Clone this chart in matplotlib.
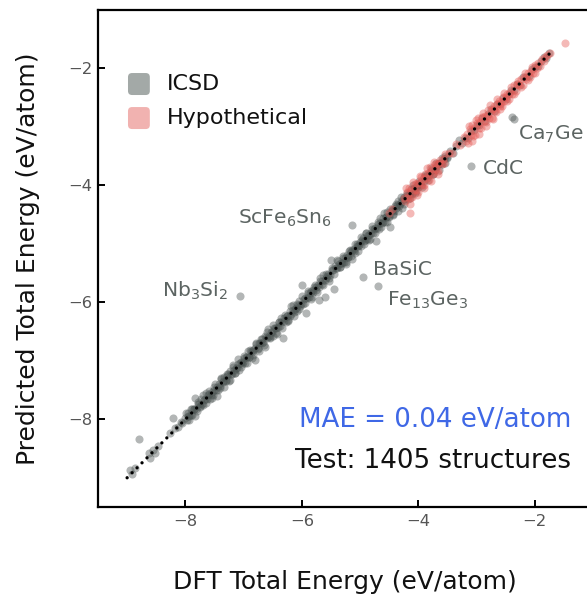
import matplotlib
matplotlib.use("Agg")
import matplotlib.pyplot as plt
from matplotlib.patches import FancyBboxPatch

plt.rcParams["font.family"] = ["DejaVu Sans"]
plt.rcParams["mathtext.fontset"] = "dejavusans"
plt.rcParams["mathtext.default"] = "regular"

# ---------------- data (eV/atom) ----------------
# ICSD structures: DFT energy vs. model prediction
icsd_dft_low = [-8.95, -8.91, -8.87, -8.80, -8.63, -8.60, -8.56, -8.52, -8.47, -8.26,
                -8.22, -8.17, -8.12, -8.08, -8.05]
icsd_pred_low = [-8.86, -8.93, -8.84, -8.34, -8.58, -8.66, -8.52, -8.57, -8.45, -8.24,
                 -7.97, -8.15, -8.14, -8.05, -8.06]

icsd_dft_a = [-8.00, -7.98, -7.95, -7.93, -7.90, -7.88, -7.85, -7.83, -7.80, -7.78,
              -7.75, -7.73, -7.70, -7.68, -7.65, -7.63, -7.60, -7.58, -7.55, -7.53,
              -7.50, -7.48, -7.45, -7.43, -7.40, -7.38, -7.35, -7.33, -7.30, -7.28,
              -7.25, -7.23, -7.20, -7.18, -7.15, -7.13, -7.10, -7.08, -7.05, -7.03]
icsd_pred_a = [-7.98, -8.01, -7.90, -7.94, -7.82, -7.92, -7.82, -7.64, -7.86, -7.74,
               -7.77, -7.66, -7.75, -7.67, -7.55, -7.66, -7.56, -7.66, -7.53, -7.58,
               -7.44, -7.50, -7.60, -7.40, -7.46, -7.29, -7.36, -7.28, -7.34, -7.26,
               -7.34, -7.17, -7.23, -7.07, -7.20, -7.12, -7.06, -7.15, -7.02, -7.05]

icsd_dft_b = [-7.00, -6.98, -6.95, -6.93, -6.90, -6.88, -6.85, -6.83, -6.80, -6.78,
              -6.75, -6.73, -6.70, -6.68, -6.65, -6.63, -6.60, -6.58, -6.55, -6.53,
              -6.50, -6.48, -6.45, -6.43, -6.40, -6.38, -6.35, -6.33, -6.30, -6.28,
              -6.25, -6.23, -6.20, -6.18, -6.15, -6.13, -6.10, -6.08, -6.05, -6.03]
icsd_pred_b = [-6.96, -7.04, -6.93, -6.84, -6.93, -6.83, -6.95, -6.82, -6.99, -6.72,
               -6.79, -6.70, -6.63, -6.70, -6.73, -6.58, -6.61, -6.46, -6.60, -6.51,
               -6.57, -6.44, -6.44, -6.54, -6.34, -6.41, -6.27, -6.61, -6.27, -6.33,
               -6.23, -6.32, -6.15, -6.20, -6.05, -6.17, -6.09, -6.14, -5.98, -6.06]

icsd_dft_c = [-6.00, -5.98, -5.95, -5.93, -5.90, -5.88, -5.85, -5.83, -5.80, -5.78,
              -5.75, -5.73, -5.70, -5.68, -5.65, -5.63, -5.60, -5.58, -5.55, -5.53,
              -5.50, -5.48, -5.45, -5.43, -5.40, -5.38, -5.35, -5.33, -5.30, -5.28,
              -5.25, -5.23, -5.20, -5.18, -5.15, -5.13, -5.10, -5.08, -5.05, -5.03]
icsd_pred_c = [-5.70, -6.03, -5.92, -6.18, -5.84, -5.90, -5.81, -5.91, -5.79, -5.71,
               -5.79, -5.71, -5.96, -5.63, -5.68, -5.54, -5.91, -5.59, -5.51, -5.59,
               -5.28, -5.45, -5.78, -5.38, -5.42, -5.30, -5.40, -5.32, -5.24, -5.31,
               -5.35, -5.19, -5.22, -5.11, -5.20, -5.10, -5.08, -5.15, -5.00, -5.04]

icsd_dft_d = [-5.00, -4.98, -4.95, -4.93, -4.90, -4.88, -4.85, -4.83, -4.80, -4.78,
              -4.75, -4.73, -4.70, -4.68, -4.65, -4.63, -4.60, -4.58, -4.55, -4.53,
              -4.50, -4.48, -4.45, -4.43, -4.40, -4.38, -4.35, -4.33, -4.30, -4.28,
              -4.25, -4.23, -4.20, -4.18, -4.15, -4.13, -4.10, -4.08, -4.05, -4.03]
icsd_pred_d = [-4.97, -5.04, -4.90, -4.95, -4.82, -4.92, -4.84, -4.92, -4.74, -4.81,
               -4.73, -4.95, -4.66, -4.75, -4.55, -4.65, -4.55, -4.63, -4.54, -4.46,
               -4.54, -4.71, -4.42, -4.49, -4.35, -4.39, -4.27, -4.36, -4.28, -4.38,
               -4.19, -4.25, -4.16, -4.23, -4.14, -4.06, -4.14, -4.05, -4.13, -4.01]

icsd_dft_e = [-4.00, -3.95, -3.90, -3.85, -3.80, -3.75, -3.70, -3.65, -3.60, -3.55,
              -3.50, -3.45, -3.40, -3.35, -3.30, -3.25, -3.20, -3.15, -3.10, -3.05]
icsd_pred_e = [-3.98, -3.99, -3.85, -3.87, -3.77, -3.81, -3.69, -3.61, -3.63, -3.49,
               -3.52, -3.42, -3.45, -3.33, -3.23, -3.28, -3.19, -3.19, -3.07, -3.06]

icsd_dft_f = [-3.00, -2.95, -2.90, -2.85, -2.80, -2.75, -2.70, -2.65, -2.60, -2.55,
              -2.50, -2.45, -2.40, -2.35, -2.30, -2.25, -2.20, -2.15, -2.10, -2.05,
              -2.00, -1.95, -1.90, -1.85, -1.80, -1.75]
icsd_pred_f = [-2.97, -2.97, -2.85, -2.89, -2.78, -2.69, -2.73, -2.61, -2.61, -2.50,
               -2.53, -2.43, -2.36, -2.37, -2.27, -2.29, -2.15, -2.14, -2.13, -2.01,
               -1.98, -1.96, -1.87, -1.80, -1.82, -1.73]

icsd_dft_g = [-7.96, -7.91, -7.86, -7.81, -7.76, -7.71, -7.66, -7.61, -7.56, -7.51,
              -7.46, -7.41, -7.36, -7.31, -7.26, -7.21, -7.16, -7.11, -7.06, -7.01,
              -6.96, -6.91, -6.86, -6.81, -6.76, -6.71, -6.66, -6.61, -6.56, -6.51,
              -6.46, -6.41, -6.36, -6.31, -6.26, -6.21, -6.16, -6.11, -6.06, -6.01,
              -5.96, -5.91, -5.86, -5.81, -5.76, -5.71, -5.66, -5.61, -5.56, -5.51,
              -5.46, -5.41, -5.36, -5.31, -5.26, -5.21, -5.16, -5.11, -5.06, -5.01,
              -4.96, -4.91, -4.86, -4.81, -4.76, -4.71, -4.66, -4.61, -4.56, -4.51,
              -4.46, -4.41, -4.36, -4.31, -4.26, -4.21, -4.16, -4.11, -4.06, -4.01,
              -3.96, -3.91, -3.86, -3.81, -3.76, -3.71, -3.66, -3.61, -3.56, -3.51]
icsd_pred_g = [-7.95, -7.93, -7.83, -7.82, -7.74, -7.74, -7.65, -7.59, -7.58, -7.50,
               -7.44, -7.43, -7.35, -7.33, -7.23, -7.22, -7.15, -7.13, -7.04, -7.02,
               -6.94, -6.93, -6.85, -6.78, -6.78, -6.70, -6.68, -6.59, -6.57, -6.50,
               -6.44, -6.43, -6.33, -6.32, -6.24, -6.23, -6.13, -6.12, -6.05, -6.03,
               -5.94, -5.93, -5.84, -5.82, -5.74, -5.73, -5.63, -5.62, -5.55, -5.53,
               -5.44, -5.42, -5.34, -5.33, -5.24, -5.22, -5.14, -5.13, -5.04, -5.02,
               -4.94, -4.93, -4.84, -4.82, -4.75, -4.72, -4.64, -4.63, -4.54, -4.52,
               -4.44, -4.43, -4.34, -4.32, -4.24, -4.22, -4.14, -4.13, -4.04, -4.03,
               -3.94, -3.93, -3.84, -3.82, -3.74, -3.73, -3.64, -3.62, -3.54, -3.53]

icsd_dft_h = [-7.99, -7.94, -7.89, -7.84, -7.79, -7.74, -7.69, -7.64, -7.59, -7.54,
              -7.49, -7.44, -7.39, -7.34, -7.29, -7.24, -7.19, -7.14, -7.09, -7.04,
              -6.99, -6.94, -6.89, -6.84, -6.79, -6.74, -6.69, -6.64, -6.59, -6.54,
              -6.49, -6.44, -6.39, -6.34, -6.29, -6.24, -6.19, -6.14, -6.09, -6.04,
              -5.99, -5.94, -5.89, -5.84, -5.79, -5.74, -5.69, -5.64, -5.59, -5.54,
              -5.49, -5.44, -5.39, -5.34, -5.29, -5.24, -5.19, -5.14, -5.09, -5.04,
              -4.99, -4.94, -4.89, -4.84, -4.79, -4.74, -4.69, -4.64, -4.59, -4.54,
              -4.49, -4.44, -4.39, -4.34, -4.29, -4.24, -4.19, -4.14, -4.09, -4.04,
              -3.99, -3.94, -3.89, -3.84, -3.79, -3.74, -3.69, -3.64, -3.59, -3.54]
icsd_pred_h = [-7.90, -8.01, -7.83, -7.94, -7.71, -7.79, -7.58, -7.72, -7.52, -7.63,
               -7.39, -7.50, -7.31, -7.45, -7.23, -7.32, -7.10, -7.21, -6.97, -7.10,
               -6.92, -7.04, -6.81, -6.90, -6.69, -6.83, -6.63, -6.76, -6.50, -6.61,
               -6.38, -6.52, -6.33, -6.44, -6.21, -6.30, -6.07, -6.23, -6.02, -6.12,
               -5.89, -6.01, -5.81, -5.95, -5.73, -5.83, -5.59, -5.70, -5.51, -5.64,
               -5.42, -5.52, -5.28, -5.40, -5.20, -5.31, -5.13, -5.26, -5.01, -5.13,
               -4.89, -5.00, -4.82, -4.94, -4.70, -4.82, -4.63, -4.71, -4.48, -4.63,
               -4.41, -4.50, -4.32, -4.44, -4.20, -4.31, -4.13, -4.22, -3.99, -4.10,
               -3.92, -4.02, -3.83, -3.91, -3.71, -3.80, -3.62, -3.73, -3.53, -3.61]

# named ICSD outliers
outlier_names = ["Nb$_3$Si$_2$", "ScFe$_6$Sn$_6$", "BaSiC", "Fe$_{13}$Ge$_3$", "CdC", "Ca$_7$Ge", ""]
outlier_dft = [-7.06, -5.14, -4.95, -4.69, -3.09, -2.39, -2.35]
outlier_pred = [-5.89, -4.67, -5.57, -5.72, -3.66, -2.83, -2.87]

# hypothetical structures
hyp_dft_a = [-4.24, -4.22, -4.20, -4.18, -4.16, -4.14, -4.12, -4.10, -4.08, -4.06,
             -4.04, -4.02, -4.00, -3.98, -3.96, -3.94, -3.92, -3.90, -3.88, -3.86,
             -3.84, -3.82, -3.80, -3.78, -3.76, -3.74, -3.72, -3.70, -3.68, -3.66,
             -3.64, -3.62, -3.60, -3.58, -3.56, -3.54]
hyp_pred_a = [-4.21, -4.27, -4.12, -4.20, -4.04, -4.21, -4.08, -4.20, -4.07, -3.97,
              -4.08, -3.96, -4.12, -3.96, -3.86, -4.00, -3.89, -3.99, -3.81, -3.87,
              -3.79, -3.90, -3.69, -3.81, -3.72, -3.80, -3.64, -3.72, -3.63, -3.75,
              -3.62, -3.56, -3.64, -3.55, -3.61, -3.47]

hyp_dft_b = [-3.48, -3.42, -3.35, -3.28, -3.22,
             -3.18, -3.16, -3.14, -3.12, -3.10, -3.08, -3.06, -3.04, -3.02, -3.00,
             -2.98, -2.96, -2.94, -2.92, -2.90, -2.88, -2.86, -2.84, -2.82, -2.80,
             -2.78, -2.76, -2.74, -2.72, -2.70, -2.68, -2.66, -2.64, -2.62, -2.60,
             -2.58, -2.56, -2.54, -2.52, -2.50]
hyp_pred_b = [-3.45, -3.44, -3.30, -3.31, -3.18,
              -3.24, -3.12, -3.28, -3.04, -3.13, -2.97, -3.15, -3.02, -3.14, -2.94,
              -2.85, -3.01, -2.91, -3.02, -2.83, -2.90, -2.81, -2.92, -2.81, -2.71,
              -2.84, -2.72, -2.85, -2.70, -2.64, -2.72, -2.75, -2.61, -2.55, -2.65,
              -2.57, -2.64, -2.49, -2.55, -2.48]

hyp_dft_c = [-2.48, -2.45, -2.42, -2.39, -2.36, -2.33, -2.30, -2.27, -2.24, -2.21,
             -2.18, -2.15, -2.12, -2.09, -2.06, -2.03, -2.00, -1.97, -1.94, -1.91,
             -1.88, -1.85, -1.82, -1.79, -1.74, -1.48, -4.14, -4.50, -4.45]
hyp_pred_c = [-2.43, -2.53, -2.40, -2.43, -2.29, -2.39, -2.27, -2.29, -2.18, -2.28,
              -2.14, -2.18, -2.07, -2.14, -2.04, -2.07, -1.94, -1.99, -1.91, -1.96,
              -1.84, -1.88, -1.81, -1.77, -1.74, -1.56, -4.47, -4.47, -4.40]

hyp_dft_d = [-4.21, -4.15, -4.09, -4.03, -3.97, -3.91, -3.85, -3.79, -3.73, -3.67,
             -3.13, -3.07, -3.01, -2.95, -2.89, -2.83, -2.77, -2.71, -2.65, -2.59,
             -2.53, -2.47, -2.41, -2.35, -2.29, -2.23, -2.17, -2.11, -2.05, -1.99]
hyp_pred_d = [-4.05, -4.31, -3.95, -4.16, -3.84, -4.05, -3.70, -3.92, -3.60, -3.81,
              -2.98, -3.24, -2.88, -3.12, -2.76, -2.99, -2.63, -2.86, -2.52, -2.70,
              -2.42, -2.56, -2.31, -2.44, -2.21, -2.31, -2.08, -2.19, -1.98, -2.07]

parity_range = [-9.0, -1.72]
mae_text = "MAE = 0.04 eV/atom"
count_text = "Test: 1405 structures"

# ---------------- figure ----------------
W, H = 587, 597
fig = plt.figure(figsize=(W / 100, H / 100), dpi=100)
ax = fig.add_axes([98 / W, (H - 507) / H, 495 / W, 497 / H])
ax.set_xlim(-9.5, -1.0)
ax.set_ylim(-9.5, -1.0)

grey = "#4a5351"
red = "#e65a55"
ms = 34

icsd_x = (icsd_dft_low + icsd_dft_a + icsd_dft_b + icsd_dft_c + icsd_dft_d
          + icsd_dft_e + icsd_dft_f + icsd_dft_g + icsd_dft_h + outlier_dft)
icsd_y = (icsd_pred_low + icsd_pred_a + icsd_pred_b + icsd_pred_c + icsd_pred_d
          + icsd_pred_e + icsd_pred_f + icsd_pred_g + icsd_pred_h + outlier_pred)
ax.scatter(icsd_x, icsd_y, s=ms, color=grey, alpha=0.42, linewidths=0, zorder=2)

hyp_x = hyp_dft_a + hyp_dft_b + hyp_dft_c + hyp_dft_d
hyp_y = hyp_pred_a + hyp_pred_b + hyp_pred_c + hyp_pred_d
ax.scatter(hyp_x, hyp_y, s=ms, color=red, alpha=0.42, linewidths=0, zorder=3)

# parity line
ax.plot(parity_range, parity_range, color="black", lw=2.4,
        dashes=(0.01, 2.1), dash_capstyle="round", zorder=4)

# outlier labels
label_color = "#5c6462"
label_pos = [(-7.27, -5.905, "right"), (-7.09, -4.65, "left"), (-4.775, -5.53, "left"),
             (-4.54, -6.05, "left"), (-2.89, -3.806, "left"), (-2.29, -3.22, "left")]
for name, (lx, ly, ha) in zip(outlier_names, label_pos):
    ax.text(lx, ly, name, ha=ha, va="baseline", fontsize=14.6, color=label_color, zorder=5)

# legend drawn as rounded swatches
for (y0, fc, lab) in [(-2.454, "#a3a9a7", "ICSD"), (-3.036, "#f1b2b0", "Hypothetical")]:
    ax.add_patch(FancyBboxPatch((-8.985 + 0.05, y0 + 0.05), 0.275, 0.276,
                                boxstyle="round,pad=0.05,rounding_size=0.07",
                                fc=fc, ec="none", zorder=5))
    ax.text(-8.314, y0 + 0.188, lab, ha="left", va="center", fontsize=16,
            color="#111111", zorder=5)

ax.text(-1.373, -8.134, mae_text, ha="right", va="baseline", fontsize=18.8,
        color="#3f68e6", zorder=5)
ax.text(-1.373, -8.836, count_text, ha="right", va="baseline", fontsize=18.8,
        color="#111111", zorder=5)

ax.set_xticks([-8, -6, -4, -2])
ax.set_yticks([-8, -6, -4, -2])
ax.tick_params(direction="in", length=5, width=1.4, labelsize=11.8,
               labelcolor="#555555", color="black")
ax.tick_params(axis="y", pad=4)
ax.tick_params(axis="x", pad=5)
for side in ["left", "bottom", "top"]:
    ax.spines[side].set_linewidth(1.6)
ax.spines["right"].set_visible(False)

fig.text(345 / W, 1 - 582 / H, "DFT Total Energy (eV/atom)", ha="center", va="center",
         fontsize=18, color="#111111")
fig.text(28 / W, 1 - 258.5 / H, "Predicted Total Energy (eV/atom)", ha="center",
         va="center", rotation=90, fontsize=18, color="#111111")

fig.savefig("out.png", dpi=100)
